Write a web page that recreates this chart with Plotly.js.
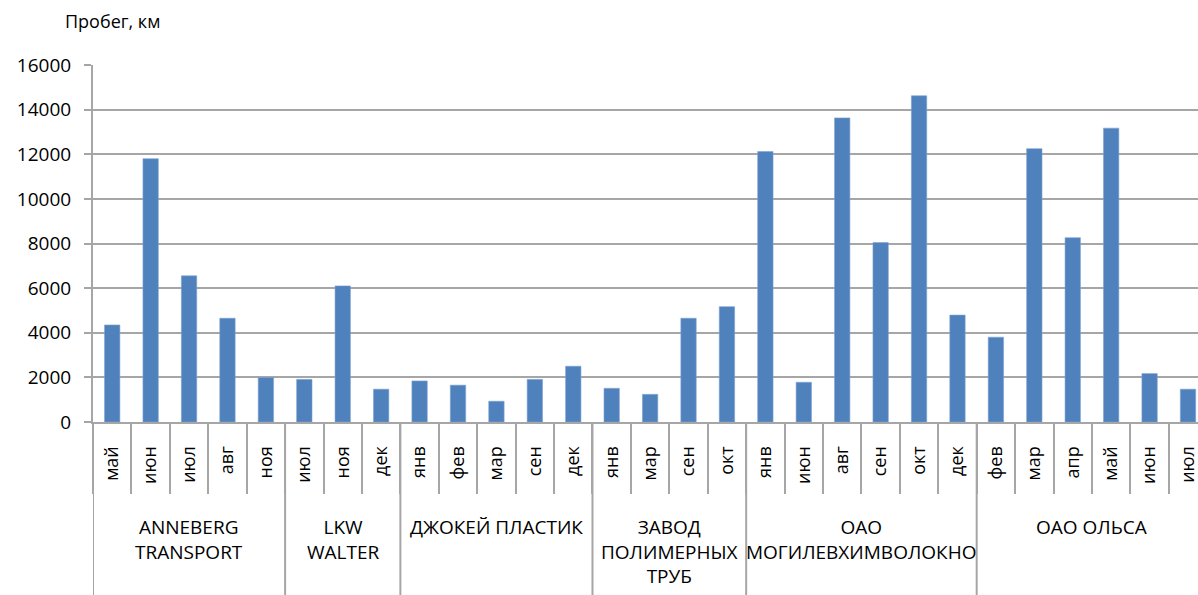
<!DOCTYPE html>
<html>
<head>
<meta charset="utf-8">
<script src="https://cdn.plot.ly/plotly-3.0.1.min.js"></script>
<style>html,body{margin:0;padding:0;background:#fff;}#chart{width:1198px;height:595px;}</style>
</head>
<body>
<div id="chart"></div>
<script>
// Data
const months = ["май","июн","июл","авг","ноя","июл","ноя","дек","янв","фев","мар","сен","дек","янв","мар","сен","окт","янв","июн","авг","сен","окт","дек","фев","мар","апр","май","июн","июл"];
const mileage = [4350,11800,6550,4650,1990,1910,6100,1470,1840,1650,930,1910,2500,1510,1240,4650,5170,12120,1780,13630,8040,14620,4790,3800,12250,8260,13170,2170,1470];
const groups = ["ANNEBERG<br>TRANSPORT","LKW<br>WALTER","ДЖОКЕЙ ПЛАСТИК","ЗАВОД<br>ПОЛИМЕРНЫХ<br>ТРУБ","ОАО<br>МОГИЛЕВХИМВОЛОКНО","ОАО ОЛЬСА"];
const groupSizes = [5,3,5,4,6,6];
const yTicks = [0,2000,4000,6000,8000,10000,12000,14000,16000];
const yTickText = ["0","2000","4000","6000","8000","10000","12000","14000","16000"];

const idx = months.map((_, i) => i);
const boundaries = months.map((_, i) => i - 0.5);
const groupStarts = [];
const groupCenters = [];
let s = 0;
groupSizes.forEach(n => { groupStarts.push(s - 0.5); groupCenters.push(s + (n - 1) / 2); s += n; });

const FONT = "Open Sans, Noto Sans, sans-serif";
const GRID = "#a6a6a6";

const trace = {
  type: "bar",
  x: idx,
  y: mileage,
  marker: {color: "#4f81bd", line: {color: "#7ea3d3", width: 0.6}},
  width: 0.4,
  hoverinfo: "y"
};

const annotations = groups.map((g, i) => ({
  text: g, x: groupCenters[i], xref: "x", y: -0.252, yref: "paper",
  xanchor: "center", yanchor: "top", showarrow: false,
  font: {family: FONT, size: 19, color: "#000"}
}));

const shapes = groupStarts.map(g => ({
  type: "line", xref: "x", yref: "paper", x0: g, x1: g, y0: 0, y1: -0.6,
  line: {color: GRID, width: 2}
}));

const layout = {
  width: 1198, height: 595,
  margin: {l: 93, r: 0, t: 65, b: 173},
  paper_bgcolor: "#fff", plot_bgcolor: "#fff",
  showlegend: false,
  title: {text: "Пробег, км", x: 65/1198, xref: "container", xanchor: "left",
          y: 1 - 22/595, yref: "container", yanchor: "middle",
          font: {family: FONT, size: 18, color: "#000"}},
  xaxis: {
    range: [-0.5, 28.26], fixedrange: true,
    tickmode: "array", tickvals: idx, ticktext: months,
    tickangle: -90, ticks: "", ticklabelstandoff: 15, ticklabeloverflow: "allow",
    tickfont: {family: FONT, size: 18, color: "#000"},
    showgrid: false, zeroline: false,
    showline: true, linecolor: GRID, linewidth: 2,
    minor: {tickmode: "array", tickvals: boundaries, ticks: "outside", ticklen: 70, tickcolor: GRID, tickwidth: 2, showgrid: false}
  },
  yaxis: {
    range: [0, 16000], fixedrange: true,
    tickmode: "array", tickvals: yTicks, ticktext: yTickText,
    ticks: "outside", ticklen: 7, tickcolor: GRID, tickwidth: 2,
    ticklabelstandoff: 9,
    tickfont: {family: FONT, size: 19, color: "#000"},
    showgrid: true, gridcolor: GRID, gridwidth: 2,
    zeroline: false, showline: true, linecolor: GRID, linewidth: 2
  },
  annotations: annotations,
  shapes: shapes
};

Plotly.newPlot("chart", [trace], layout, {displayModeBar: false, staticPlot: true});
</script>
</body>
</html>
